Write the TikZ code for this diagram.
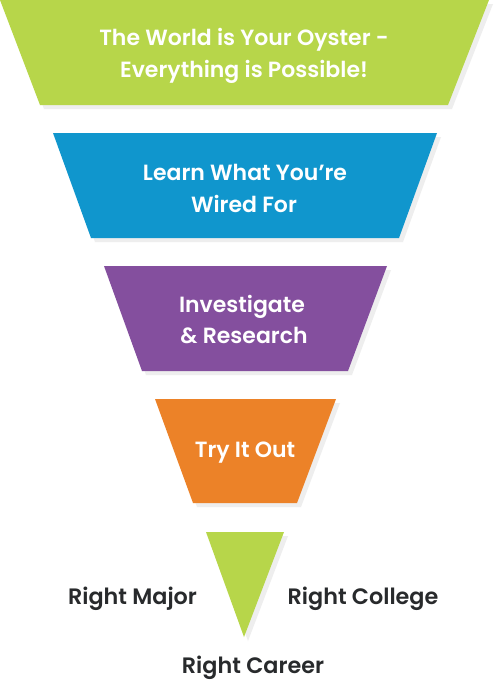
\documentclass[tikz,border=0pt]{standalone}
\usepackage{fontspec}
\setmainfont{Poppins}[BoldFont={Poppins SemiBold}]
\definecolor{cgreen}{RGB}{183,214,74}
\definecolor{cblue}{RGB}{16,150,205}
\definecolor{cpurple}{RGB}{132,79,158}
\definecolor{corange}{RGB}{236,130,40}
\definecolor{cshadow}{RGB}{238,238,238}
\definecolor{cdark}{RGB}{40,42,44}
\tikzset{
  inlabel/.style={anchor=base,text=white,font=\fontsize{22}{32}\selectfont\bfseries,inner sep=0pt},
  outlabel/.style={anchor=base,text=cdark,font=\fontsize{22.3}{32}\selectfont\bfseries,inner sep=0pt},
  shad/.style={fill=cshadow}
}
\begin{document}
\begin{tikzpicture}[x=1pt,y=-1pt]
\useasboundingbox[fill=white] (0,0) rectangle (495,686);
% shadows
\fill[shad] (4,4) -- (493,4) -- (452,109) -- (44,109) -- cycle;
\fill[shad] (57,137) -- (441,137) -- (403,242) -- (95,242) -- cycle;
\fill[shad] (108,270) -- (391,270) -- (352,375) -- (146,375) -- cycle;
\fill[shad] (159,403) -- (340,403) -- (301,507) -- (197,507) -- cycle;
\fill[shad] (210,536) -- (288,536) -- (248,641) -- cycle;
% shapes
\fill[cgreen] (0,0) -- (489,0) -- (448,105) -- (40,105) -- cycle;
\fill[cblue] (53,133) -- (437,133) -- (399,238) -- (91,238) -- cycle;
\fill[cpurple] (104,266) -- (387,266) -- (348,371) -- (142,371) -- cycle;
\fill[corange] (155,399) -- (336,399) -- (297,503) -- (193,503) -- cycle;
\fill[cgreen] (206,532) -- (284,532) -- (244,637) -- cycle;
% texts
\node[inlabel] (g1) at (244,45) {The World is Your Oyster -};
\node[inlabel] (g2) at (244,77) {Everything is Possible!};
\node[inlabel] (b1) at (245,180) {Learn What You’re};
\node[inlabel] (b2) at (244,212) {Wired For};
\node[inlabel] (p1) at (242,312) {Investigate};
\node[inlabel] (p2) at (244,343) {\& Research};
\node[inlabel] (o1) at (245,457) {Try It Out};
\node[outlabel] (rm) at (132.5,604) {Right Major};
\node[outlabel] (rc) at (363,604) {Right College};
\node[outlabel] (rr) at (253,673) {Right Career};
\end{tikzpicture}
\end{document}
